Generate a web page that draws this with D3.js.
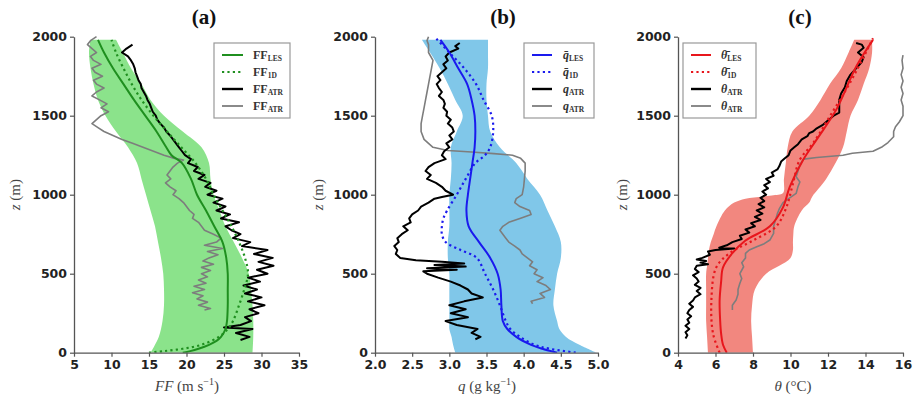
<!DOCTYPE html>
<html><head><meta charset="utf-8">
<script src="https://cdn.jsdelivr.net/npm/d3@7"></script>
<style>body{margin:0;background:#fff}svg{display:block}</style>
</head><body><svg id="chart" width="920" height="401"></svg>
<script>
// ---------------- DATA ----------------
const zTicks = [0, 500, 1000, 1500, 2000];
const ffTicks = [5, 10, 15, 20, 25, 30, 35];
const qTicks = [2.0, 2.5, 3.0, 3.5, 4.0, 4.5, 5.0];
const thTicks = [4, 6, 8, 10, 12, 14, 16];
const panelTitles = ["(a)", "(b)", "(c)"];

// Panel (a): wind speed FF (m/s); rows are [z, low, high] for band, [z, value] for lines
const ffBand = [[0,15.2,28.8],[100,16.3,28.9],[200,16.8,28.9],[300,17.0,28.8],[400,17.0,28.6],[500,16.9,28.3],[600,16.6,27.4],[700,16.2,26.3],[800,15.8,25.2],[900,15.2,24.4],[1000,14.6,23.6],[1100,14.0,23.2],[1200,13.4,23.0],[1300,12.2,22.0],[1400,10.6,19.5],[1500,9.2,17.0],[1600,8.2,15.2],[1700,7.6,14.0],[1800,7.2,12.6],[1900,7.0,11.5],[1980,7.2,10.6]];
const ffLes = [[0,19.5],[10,20.5],[25,21.6],[50,23.0],[75,24.0],[100,24.6],[150,25.2],[200,25.4],[300,25.5],[400,25.5],[500,25.5],[600,25.3],[700,24.8],[800,23.7],[900,22.6],[1000,21.4],[1100,20.6],[1200,19.4],[1250,18.0],[1300,17.3],[1400,16.0],[1500,14.5],[1600,13.0],[1700,11.6],[1800,10.2],[1900,9.0],[1980,8.2]];
const ffOneD = [[0,15.0],[10,17.0],[25,19.5],[50,22.0],[100,24.3],[150,25.5],[200,26.2],[300,27.0],[400,27.7],[500,28.2],[600,27.8],[700,27.0],[800,26.0],[900,24.8],[1000,23.6],[1100,22.6],[1200,21.2],[1300,19.3],[1400,17.4],[1500,15.6],[1600,14.0],[1700,12.7],[1800,11.6],[1900,10.6],[1980,10.0]];
const ffAtrBlack = [[1950,12.8],[1925,12.0],[1900,11.4],[1875,12.2],[1850,12.6],[1825,12.9],[1800,13.1],[1775,13.2],[1750,13.4],[1725,13.6],[1700,13.9],[1675,14.0],[1650,14.3],[1625,14.6],[1600,14.8],[1575,15.1],[1550,15.3],[1525,15.5],[1500,15.9],[1475,16.1],[1450,16.5],[1425,17.0],[1400,17.3],[1375,17.8],[1350,18.2],[1325,18.6],[1300,19.0],[1275,19.4],[1250,19.8],[1225,20.6],[1200,20.2],[1175,21.5],[1150,21.0],[1125,22.4],[1100,21.6],[1075,23.2],[1050,22.5],[1025,24.0],[1000,22.8],[975,24.8],[950,23.6],[925,25.2],[900,24.0],[875,25.8],[850,24.6],[825,27.0],[800,25.2],[775,26.0],[750,27.2],[725,26.2],[700,28.5],[675,27.4],[650,30.8],[625,29.0],[600,31.5],[575,29.6],[550,31.6],[525,29.4],[500,30.8],[475,28.2],[450,29.8],[425,27.6],[400,29.4],[375,27.8],[350,30.0],[325,28.2],[300,30.4],[275,28.4],[250,29.6],[225,27.8],[200,28.6],[175,27.2],[160,25.0],[150,28.8],[125,26.6],[100,28.4],[80,27.2]];
const ffAtrGray = [[2000,8.0],[1975,7.2],[1950,6.8],[1925,7.4],[1900,8.0],[1875,7.2],[1850,7.6],[1825,8.6],[1800,7.4],[1775,7.8],[1750,8.8],[1725,7.6],[1700,8.0],[1675,9.0],[1650,8.0],[1625,7.4],[1600,8.4],[1575,9.4],[1550,8.6],[1525,9.6],[1500,8.6],[1475,8.0],[1450,7.4],[1425,8.2],[1400,9.0],[1375,10.2],[1350,11.4],[1325,12.8],[1300,14.2],[1275,15.6],[1250,17.0],[1230,18.4],[1220,19.6],[1210,19.2],[1200,18.8],[1175,18.2],[1150,17.8],[1125,17.4],[1100,17.9],[1075,17.2],[1050,17.8],[1025,18.6],[1000,18.2],[975,19.0],[950,19.6],[925,20.0],[900,20.4],[875,21.0],[850,20.8],[825,21.6],[800,22.0],[775,22.4],[750,23.6],[725,24.6],[700,24.0],[680,22.4],[660,24.8],[640,22.8],[620,24.2],[600,23.0],[580,22.2],[560,23.6],[540,22.0],[520,23.2],[500,22.0],[480,22.8],[460,21.6],[440,22.6],[420,21.0],[400,22.4],[380,20.8],[360,22.2],[340,21.4],[320,22.8],[300,21.6],[280,23.2],[270,22.4]];

// Panel (b): specific humidity q (g/kg)
const qBand = [[0,3.08,4.98],[50,3.05,4.75],[100,3.03,4.57],[150,3.0,4.48],[200,3.0,4.45],[300,3.0,4.4],[400,3.0,4.42],[500,3.0,4.45],[600,2.98,4.5],[700,2.98,4.5],[800,3.0,4.42],[900,3.0,4.32],[1000,3.0,4.22],[1100,3.02,4.05],[1200,3.03,3.9],[1300,3.02,3.68],[1400,3.1,3.55],[1500,3.18,3.52],[1600,3.08,3.5],[1700,2.98,3.5],[1800,2.87,3.52],[1900,2.74,3.52],[1980,2.63,3.52]];
const qLes = [[0,4.45],[25,4.25],[50,4.1],[100,3.9],[150,3.78],[200,3.72],[300,3.7],[400,3.69],[500,3.65],[600,3.55],[700,3.4],[800,3.26],[900,3.23],[1000,3.25],[1100,3.28],[1200,3.31],[1300,3.34],[1400,3.35],[1500,3.34],[1600,3.3],[1700,3.24],[1800,3.12],[1900,3.0],[1980,2.88]];
const qOneD = [[0,4.7],[25,4.35],[50,4.15],[100,3.95],[150,3.82],[200,3.76],[300,3.68],[400,3.59],[500,3.48],[600,3.37],[650,3.15],[700,2.95],[750,2.9],[800,2.9],[850,2.92],[900,2.97],[1000,3.1],[1100,3.22],[1200,3.35],[1250,3.48],[1300,3.55],[1400,3.59],[1500,3.57],[1600,3.46],[1700,3.36],[1800,3.2],[1900,3.0],[1990,2.82]];
const qAtrBlack = [[1960,3.14],[1940,3.08],[1925,3.12],[1900,3.0],[1875,2.95],[1850,2.98],[1825,2.92],[1800,2.96],[1775,2.9],[1750,2.84],[1725,2.88],[1700,2.83],[1675,2.86],[1650,2.9],[1625,2.86],[1600,2.92],[1575,2.94],[1550,2.92],[1525,2.97],[1500,2.96],[1475,3.02],[1450,2.98],[1425,3.04],[1400,3.06],[1375,3.0],[1350,3.04],[1325,2.96],[1300,3.0],[1275,2.93],[1250,2.9],[1225,2.95],[1200,2.8],[1175,2.72],[1150,2.68],[1125,2.75],[1100,2.7],[1075,2.82],[1050,2.9],[1025,2.95],[1000,3.05],[985,2.9],[975,2.8],[950,2.72],[925,2.62],[900,2.58],[875,2.5],[850,2.46],[825,2.48],[800,2.38],[775,2.44],[750,2.36],[725,2.3],[700,2.32],[675,2.26],[650,2.3],[625,2.28],[600,2.34],[585,2.55],[575,2.9],[565,3.2],[555,2.8],[545,3.22],[535,2.7],[525,3.1],[515,2.65],[500,2.7],[475,2.85],[450,3.02],[425,3.15],[400,3.25],[375,3.3],[350,3.45],[325,3.2],[300,3.0],[275,3.22],[250,3.02],[225,3.25],[200,2.95],[175,3.1],[150,3.38],[125,3.3],[100,3.42],[85,3.35]];
const qAtrGray = [[2000,2.72],[1975,2.7],[1950,2.72],[1900,2.72],[1850,2.78],[1800,2.76],[1750,2.74],[1700,2.72],[1650,2.7],[1600,2.68],[1550,2.66],[1500,2.64],[1450,2.62],[1400,2.62],[1350,2.66],[1300,2.78],[1280,2.98],[1270,3.3],[1260,3.6],[1250,3.85],[1230,3.96],[1200,4.02],[1150,4.02],[1100,4.01],[1050,4.0],[1000,3.98],[975,3.9],[950,3.88],[925,3.95],[900,4.08],[875,4.1],[850,3.95],[825,3.8],[800,3.72],[775,3.68],[750,3.72],[725,3.76],[700,3.8],[675,3.88],[650,3.95],[625,3.98],[600,4.05],[575,4.12],[550,4.08],[525,4.18],[500,4.14],[475,4.26],[450,4.18],[425,4.3],[400,4.36],[375,4.22],[350,4.28],[325,4.1],[310,4.12]];

// Panel (c): potential temperature theta (deg C)
const thBand = [[0,5.6,8.0],[100,5.55,7.95],[200,5.5,7.9],[300,5.5,7.95],[400,5.5,8.1],[500,5.5,8.7],[550,5.55,9.4],[600,5.6,10.0],[650,5.65,10.13],[700,5.75,10.13],[750,5.9,10.15],[800,6.05,10.2],[900,6.5,10.6],[950,7.0,11.0],[975,7.6,11.1],[995,9.0,11.2],[1010,9.6,11.3],[1100,9.65,11.9],[1200,9.75,12.4],[1300,9.85,12.8],[1400,10.1,13.0],[1500,11.0,13.2],[1600,11.6,13.6],[1700,12.1,13.9],[1800,12.7,14.2],[1900,13.1,14.35],[1980,13.4,14.35]];
const thLes = [[0,6.6],[50,6.4],[120,6.3],[200,6.25],[330,6.22],[450,6.3],[540,6.4],[630,6.9],[710,7.6],[800,8.9],[920,9.6],[1050,9.96],[1220,10.67],[1350,11.4],[1540,12.45],[1810,13.5],[1980,14.4]];
const thOneD = [[0,6.22],[120,5.87],[330,5.78],[540,6.04],[630,6.76],[710,8.0],[800,9.24],[920,9.78],[1070,10.13],[1220,10.49],[1325,11.2],[1495,12.09],[1705,13.16],[1990,14.4]];
const thAtrBlack = [[1960,13.5],[1950,13.8],[1930,13.9],[1900,13.6],[1870,13.9],[1840,13.8],[1800,13.5],[1760,13.2],[1720,13.0],[1680,12.9],[1640,12.7],[1600,12.6],[1560,12.6],[1520,12.6],[1500,12.3],[1460,11.9],[1440,11.7],[1420,11.4],[1400,11.2],[1390,11.0],[1370,10.9],[1350,10.6],[1320,10.4],[1300,10.2],[1280,10.0],[1250,9.9],[1230,9.7],[1210,9.5],[1180,9.4],[1160,9.3],[1140,9.0],[1120,9.1],[1100,8.7],[1080,8.9],[1060,8.6],[1040,8.8],[1020,8.5],[1000,8.7],[980,8.4],[960,8.6],[940,8.3],[920,8.6],[900,8.2],[880,8.5],[860,8.1],[840,8.4],[820,7.9],[800,8.1],[780,7.6],[760,7.8],[740,7.3],[720,7.4],[700,6.9],[680,6.6],[665,6.2],[660,7.0],[650,6.0],[640,5.6],[620,5.7],[600,5.3],[590,5.0],[580,5.5],[570,5.2],[560,5.6],[550,5.0],[530,4.9],[510,5.1],[490,4.8],[470,5.0],[450,5.1],[430,4.9],[410,5.2],[390,5.0],[370,5.2],[350,4.9],[330,4.8],[310,4.6],[290,4.8],[270,4.6],[250,4.5],[230,4.7],[210,4.5],[190,4.6],[170,4.4],[150,4.6],[130,4.4],[110,4.5],[90,4.4]];
const thAtrGray = [[1884,16.0],[1850,15.95],[1800,16.0],[1760,15.9],[1720,16.0],[1680,15.9],[1640,16.0],[1600,15.9],[1560,16.0],[1500,16.0],[1460,15.8],[1430,15.6],[1400,15.5],[1367,15.5],[1330,15.2],[1304,14.9],[1275,14.4],[1262,13.3],[1250,12.8],[1235,11.4],[1225,10.7],[1190,10.5],[1150,10.4],[1114,10.3],[1080,10.5],[1051,10.4],[1008,10.3],[975,9.9],[950,9.6],[910,9.4],[880,9.3],[840,9.2],[800,9.1],[755,9.1],[713,8.9],[690,8.6],[671,8.2],[650,7.8],[629,7.6],[600,7.6],[570,7.4],[544,7.5],[500,7.3],[470,7.4],[439,7.3],[400,7.2],[370,7.2],[333,7.1],[300,6.9],[270,6.9]];

// ---------------- DRAW ----------------
const svg = d3.select("#chart");
const yTop = 36.7, yBot = 352.7;
const y = d3.scaleLinear().domain([0, 2000]).range([yBot, yTop]);
const serif = "'Liberation Serif','DejaVu Serif',serif";
const sans = "'DejaVu Sans',sans-serif";

const panels = [
  {x0:74, x1:299, domain:[5,35], ticks:ffTicks, fmt:d3.format("d"), title:panelTitles[0], titleX:204,
   band:ffBand, les:ffLes, oneD:ffOneD, black:ffAtrBlack, gray:ffAtrGray,
   bandColor:"#8be38b", lineColor:"#1f8f1f", yLabelX:15, xLabelX:187,
   xlabel:[["FF","italic"],[" (m s",""],["−1","sup"],[")",""]],
   legend:{x:214,y:43,w:76,h:75,sx:222,sw:21,tx:253, base:"FF", bar:false, sym:["LES","1D","ATR","ATR"]}},
  {x0:375, x1:598, domain:[2,5], ticks:qTicks, fmt:d3.format(".1f"), title:panelTitles[1], titleX:503,
   band:qBand, les:qLes, oneD:qOneD, black:qAtrBlack, gray:qAtrGray,
   bandColor:"#80c7e9", lineColor:"#1a1aee", yLabelX:318, xLabelX:487,
   xlabel:[["q","italic"],[" (g kg",""],["−1","sup"],[")",""]],
   legend:{x:524,y:43,w:70,h:75,sx:532,sw:20,tx:563, base:"q", bar:true, sym:["LES","1D","ATR","ATR"]}},
  {x0:678, x1:903, domain:[4,16], ticks:thTicks, fmt:d3.format("d"), title:panelTitles[2], titleX:800,
   band:thBand, les:thLes, oneD:thOneD, black:thAtrBlack, gray:thAtrGray,
   bandColor:"#f2877f", lineColor:"#e8161c", yLabelX:622, xLabelX:793,
   xlabel:[["θ","italic"],[" (°C)",""]],
   legend:{x:683,y:43,w:73,h:75,sx:691,sw:20,tx:721, base:"θ", bar:true, sym:["LES","1D","ATR","ATR"]}}
];

panels.forEach((p, i) => {
  const x = d3.scaleLinear().domain(p.domain).range([p.x0, p.x1]);
  const g = svg.append("g");
  const clipId = "clip" + i;
  svg.append("clipPath").attr("id", clipId).append("rect")
    .attr("x", p.x0).attr("y", yTop - 2).attr("width", p.x1 - p.x0 + 1).attr("height", yBot - yTop + 2);
  const plot = g.append("g").attr("clip-path", `url(#${clipId})`);

  // band
  plot.append("path").datum(p.band)
    .attr("d", d3.area().curve(d3.curveCatmullRom.alpha(0.5))
      .y(d => y(d[0])).x0(d => x(d[1])).x1(d => x(d[2])))
    .attr("fill", p.bandColor).attr("stroke", "none");

  const smooth = d3.line().curve(d3.curveCatmullRom.alpha(0.5)).x(d => x(d[1])).y(d => y(d[0]));
  const rough = d3.line().x(d => x(d[1])).y(d => y(d[0]));

  plot.append("path").datum(p.gray).attr("d", rough)
    .attr("fill", "none").attr("stroke", "#7d7d7d").attr("stroke-width", 1.6).attr("stroke-linejoin", "round");
  plot.append("path").datum(p.black).attr("d", rough)
    .attr("fill", "none").attr("stroke", "#000").attr("stroke-width", 2).attr("stroke-linejoin", "round");
  plot.append("path").datum(p.les).attr("d", smooth)
    .attr("fill", "none").attr("stroke", p.lineColor).attr("stroke-width", 2);
  plot.append("path").datum(p.oneD).attr("d", smooth)
    .attr("fill", "none").attr("stroke", p.lineColor).attr("stroke-width", 2.2).attr("stroke-dasharray", "2.2,3.2");

  // axes
  const xAxis = d3.axisBottom(x).tickValues(p.ticks).tickFormat(p.fmt).tickSize(4).tickPadding(3).tickSizeOuter(0);
  const yAxis = d3.axisLeft(y).tickValues(zTicks).tickFormat(d3.format("d")).tickSize(4).tickPadding(3).tickSizeOuter(0);
  const gx = g.append("g").attr("transform", `translate(0,${yBot})`).call(xAxis);
  const gy = g.append("g").attr("transform", `translate(${p.x0},0)`).call(yAxis);
  [gx, gy].forEach(a => {
    a.select(".domain").attr("stroke", "#555").attr("stroke-width", 1.3);
    a.selectAll(".tick line").attr("stroke", "#555").attr("stroke-width", 1.2);
    a.selectAll(".tick text").attr("fill", "#222").style("font-family", sans)
      .style("font-weight", "bold").style("font-size", "12.5px");
  });

  // title
  g.append("text").attr("x", p.titleX).attr("y", 24).attr("text-anchor", "middle")
    .style("font-family", serif).style("font-weight", "bold").style("font-size", "21px").attr("fill", "#111").text(p.title);

  // x label
  const xl = g.append("text").attr("x", p.xLabelX).attr("y", 391).attr("text-anchor", "middle")
    .style("font-family", serif).style("font-size", "15px").attr("fill", "#444");
  p.xlabel.forEach(([t, s]) => {
    const ts = xl.append("tspan").text(t);
    if (s === "italic") ts.style("font-style", "italic");
    if (s === "sup") ts.attr("dy", -6).style("font-size", "10px");
    if (s === "" && t === ")") ts.attr("dy", 6);
  });

  // y label
  const yl = g.append("text").attr("transform", `translate(${p.yLabelX + 5},${(yTop + yBot) / 2}) rotate(-90)`)
    .attr("text-anchor", "middle").style("font-family", serif).style("font-size", "15px").attr("fill", "#444");
  yl.append("tspan").style("font-style", "italic").text("z");
  yl.append("tspan").text(" (m)");

  // legend
  const L = p.legend;
  const lg = g.append("g");
  lg.append("rect").attr("x", L.x).attr("y", L.y).attr("width", L.w).attr("height", L.h)
    .attr("fill", "#fff").attr("stroke", "#999").attr("stroke-width", 1.2);
  const rows = [
    {stroke: p.lineColor, dash: null, w: 2},
    {stroke: p.lineColor, dash: "2.2,3.2", w: 2.2},
    {stroke: "#000", dash: null, w: 2.4},
    {stroke: "#7d7d7d", dash: null, w: 1.8}
  ];
  rows.forEach((r, k) => {
    const ry = L.y + 12 + k * 17;
    lg.append("line").attr("x1", L.sx).attr("x2", L.sx + L.sw).attr("y1", ry).attr("y2", ry)
      .attr("stroke", r.stroke).attr("stroke-width", r.w).attr("stroke-dasharray", r.dash);
    const t = lg.append("text").attr("x", L.tx).attr("y", ry + 4)
      .style("font-family", serif).style("font-size", "12px").style("font-weight", "bold").attr("fill", "#333");
    const b = t.append("tspan");
    const useBar = L.bar && k < 2;
    b.text(useBar ? L.base + "\u0304" : L.base);
    if (L.base !== "FF") b.style("font-style", "italic");
    t.append("tspan").attr("dy", 2).style("font-size", "7.5px").text(L.sym[k]);
  });
});
</script>
</body></html>
